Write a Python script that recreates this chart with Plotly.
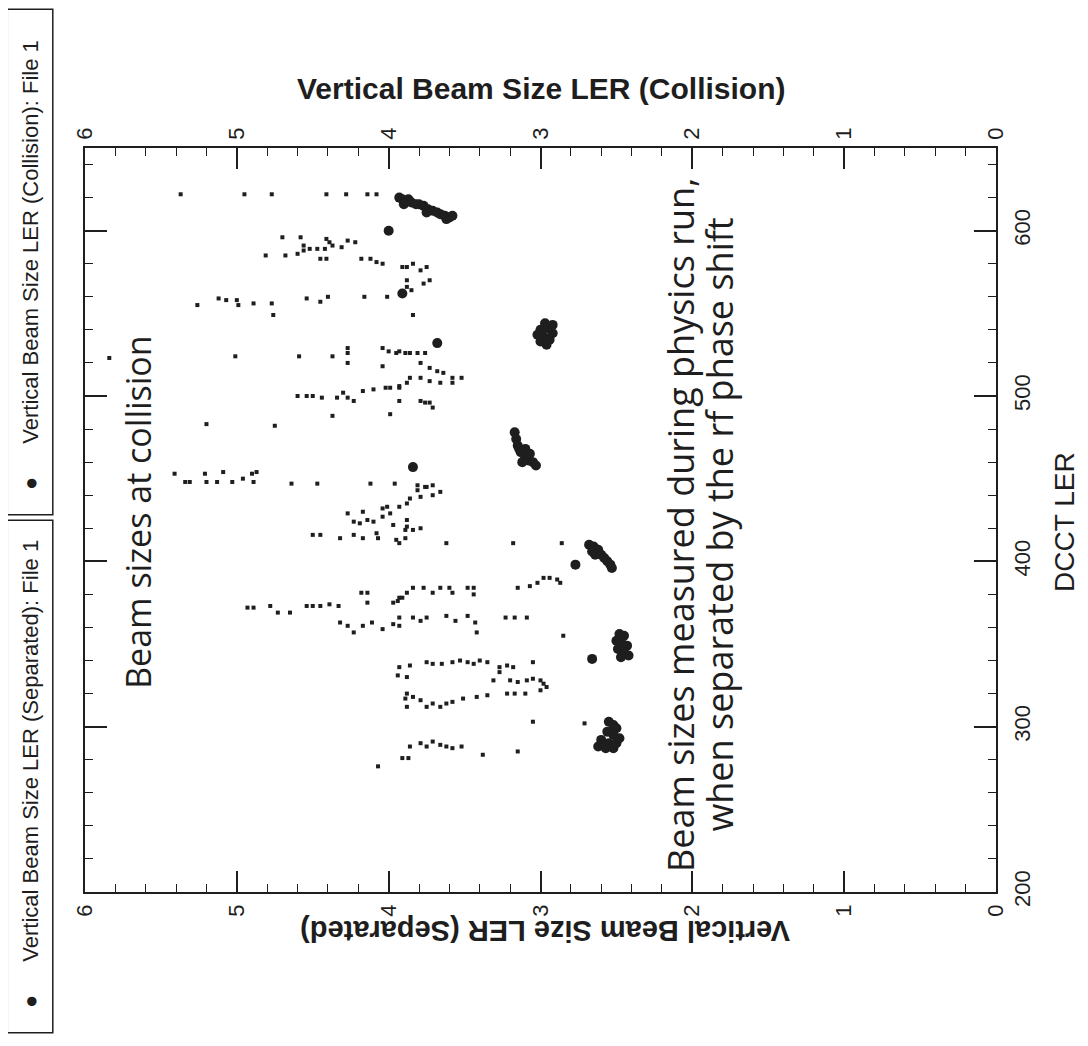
import plotly.graph_objects as go

# ---------------- data ----------------
# Small dots: vertical beam size at collision (top axis), vs DCCT LER
collision_points = [
    (5.37,622),(4.95,622),(4.77,622),(4.41,622),(4.28,622),(4.14,622),(4.08,622),
    (4.70,596),(4.58,596),(4.41,595),(4.39,593),(4.27,594),(4.22,593),(4.56,591),(4.52,589),
    (4.47,589),(4.42,589),(4.37,591),(4.31,590),(4.81,585),(4.68,585),(4.60,586),(4.56,588),
    (4.45,583),(4.41,583),(4.18,583),(4.12,583),(4.08,581),(4.04,580),
    (3.91,578),(3.88,570),(3.88,578),(3.84,580),(3.79,576),(3.75,578),(3.73,570),(3.77,568),
    (3.88,566),(3.85,564),
    (5.26,555),(5.12,559),(5.07,558),(5.00,558),(4.99,555),(4.89,556),(4.77,556),(4.76,549),
    (4.54,559),(4.45,557),(4.40,560),(4.16,560),(4.01,560),(3.84,549),
    (5.84,523),(5.01,524),(4.59,524),(4.37,524),(4.27,529),(4.27,526),(4.27,520),(4.04,529),
    (4.00,527),(3.95,526),(3.89,526),(4.04,518),
    (3.93,527),(3.86,526),(3.81,526),(3.76,526),(3.79,520),(3.73,517),(3.68,515),(3.64,514),
    (3.58,511),(3.52,511),(3.86,511),(3.79,511),(3.73,509),(3.66,508),(3.58,508),(3.93,505),
    (3.79,497),(3.76,496),(3.73,496),(3.71,493),
    (4.60,500),(4.54,500),(4.50,500),(4.44,499),(4.34,499),(4.30,502),(4.27,499),(4.23,497),
    (4.17,503),(4.10,504),(4.02,505),(3.99,505),(3.93,506),(3.88,508),(3.93,497),(4.37,488),
    (3.99,489),(5.20,483),(4.75,482),
    (5.41,453),(5.34,448),(5.31,448),(5.21,453),(5.20,448),(5.13,448),(5.09,454),(5.03,448),
    (4.96,450),(4.90,453),(4.89,448),(4.87,454),(4.64,447),(4.47,447),(4.12,447),(3.96,447),
    (3.81,446),(3.76,445),(3.71,446),(3.81,443),(3.75,445),(3.71,440),(3.66,442),(3.86,438),
    (3.79,439),(3.93,433),
    (4.27,429),(4.17,430),(4.14,425),(4.23,424),(4.19,423),(4.10,424),(4.04,432),(4.01,433),
    (4.04,427),(3.99,429),(3.97,422),(4.50,416),(4.45,416),(4.32,414),(4.23,416),(4.17,414),
    (4.08,417),(4.07,414),(3.95,413),(3.89,414),(3.89,419),(3.88,435),(3.88,425),
    (3.88,421),(3.84,419),(3.79,420),(3.93,411),(3.62,411),(3.18,411),(2.86,411),
    (3.15,384),(3.07,385),(3.02,387),(2.98,390),(2.94,390),(2.89,389),(2.87,387),(3.93,378),
    (3.88,381),(3.84,384),(3.77,384),(3.71,381),(3.66,384),(3.60,384),(3.58,381),(3.48,384),
    (3.44,384),(3.44,380),
    (4.93,372),(4.89,372),(4.78,373),(4.73,369),(4.65,369),(4.54,373),(4.50,373),(4.45,373),
    (4.39,374),(4.33,373),(4.18,381),(4.14,381),(4.14,375),(3.97,375),(3.94,376),(3.91,378),
    (4.32,363),(4.27,361),(4.23,357),(4.17,361),(4.11,363),(4.04,359),(3.97,362),(3.93,361),
    (3.93,366),(3.84,366),(3.79,364),(3.75,366),(3.62,367),(3.56,364),(3.48,367),(3.43,363),
    (3.42,357),(3.23,366),(3.17,366),(3.09,366),(2.85,355),
    (3.94,331),(3.88,330),
    (3.93,336),(3.86,337),(3.75,339),(3.71,338),(3.65,338),(3.58,339),(3.53,340),(3.48,339),
    (3.44,338),(3.40,340),(3.35,339),(3.27,336),(3.22,337),(3.18,336),(3.05,339),(3.31,328),
    (3.27,333),(3.20,328),(3.15,327),(3.09,328),(3.05,329),(3.00,328),(2.98,326),(2.96,324),
    (3.00,322),
    (3.89,317),(3.88,312),
    (3.88,320),(3.84,318),(3.79,316),(3.75,312),(3.71,314),(3.66,312),(3.62,314),(3.58,315),
    (3.51,317),(3.42,318),(3.35,319),(3.22,320),(3.17,320),(3.10,320),(3.05,303),(2.71,302),
    (4.07,276),(3.91,281),(3.87,281),
    (3.86,288),(3.79,290),(3.75,288),(3.71,291),(3.66,289),(3.62,288),(3.58,287),(3.52,288),
    (3.38,283),(3.15,285),
]

# Large dots: vertical beam size when separated (bottom axis), vs DCCT LER
separated_points = [
    (3.93,620),(3.91,619),(3.89,618),(3.87,619),(3.85,617),(3.82,616),(3.80,616),(3.77,615),
    (3.74,613),(3.71,612),(3.68,611),(3.66,610),(3.63,609),(3.60,608),(3.58,609),(3.62,607),
    (3.75,611),(3.90,616),
    (4.00,600),(3.91,562),(3.68,532),(3.84,457),(2.77,398),(2.66,341),
    (3.00,540),(2.95,541),(2.92,538),(2.98,536),(2.94,534),(3.00,533),(2.96,531),(2.92,543),
    (3.02,537),(2.97,544),
    (3.17,478),(3.16,474),(3.15,470),(3.13,466),(3.10,463),(3.08,461),(3.05,460),(3.03,458),
    (3.12,460),(3.07,465),(3.14,468),(3.10,468),
    (2.68,410),(2.65,409),(2.62,407),(2.64,404),(2.60,404),(2.58,402),(2.56,400),(2.54,398),
    (2.53,396),(2.66,406),
    (2.48,356),(2.45,355),(2.50,352),(2.46,350),(2.43,349),(2.49,347),(2.45,345),(2.42,343),
    (2.47,342),
    (2.55,303),(2.52,301),(2.50,299),(2.56,297),(2.52,295),(2.60,292),(2.55,290),(2.50,290),
    (2.62,288),(2.57,287),(2.52,287),(2.48,293),
]

beam_ticks = [0, 1, 2, 3, 4, 5, 6]
dcct_ticks = [200, 300, 400, 500, 600]

col_beam = [p[0] for p in collision_points]
col_dcct = [p[1] for p in collision_points]
sep_beam = [p[0] for p in separated_points]
sep_dcct = [p[1] for p in separated_points]

INK = "#1e1e1e"
SANS = "Liberation Sans, Arial, Helvetica, sans-serif"
HUMAN = "Open Sans, Noto Sans, sans-serif"

fig = go.Figure()
fig.add_trace(go.Scatter(
    x=sep_beam, y=sep_dcct, mode="markers", xaxis="x", yaxis="y",
    name="Vertical Beam Size LER (Separated): File 1",
    marker=dict(symbol="circle", size=10, color=INK, line=dict(width=0)),
))
fig.add_trace(go.Scatter(
    x=col_beam, y=col_dcct, mode="markers", xaxis="x2", yaxis="y",
    name="Vertical Beam Size LER (Collision): File 1",
    marker=dict(symbol="square", size=4, color=INK, line=dict(width=0)),
))

xcommon = dict(
    range=[6, 0], tickvals=beam_ticks, ticks="inside", ticklen=21, tickwidth=1.5,
    tickcolor=INK, showline=True, linewidth=1.5, linecolor=INK, showgrid=False,
    zeroline=False, tickangle=-90, ticklabelstandoff=2,
    tickfont=dict(family=SANS, size=22, color=INK),
    minor=dict(ticks="inside", ticklen=8, dtick=0.2, tick0=0, tickwidth=1.2,
               tickcolor=INK, showgrid=False),
)

# page body has an 8px margin, so the figure is sized / offset to compensate
fig.update_layout(
    width=1080, height=1030,
    margin=dict(l=77, r=92, t=140, b=146),
    paper_bgcolor="white", plot_bgcolor="white",
    showlegend=False,
    xaxis=dict(side="bottom", anchor="y", **xcommon),
    xaxis2=dict(side="top", anchor="y", overlaying="x", **xcommon),
    yaxis=dict(
        side="right", range=[200, 650], tickvals=dcct_ticks, ticks="inside",
        ticklen=22, tickwidth=1.5, tickcolor=INK, showline=True, linewidth=1.5,
        linecolor=INK, mirror="ticks", showgrid=False, zeroline=False,
        tickangle=-90, ticklabelstandoff=6,
        tickfont=dict(family=SANS, size=22, color=INK),
        minor=dict(ticks="inside", ticklen=8, dtick=20, tick0=200, tickwidth=1.2,
                   tickcolor=INK, showgrid=False),
    ),
)

annotations = [
    # axis titles
    dict(text="<b>Vertical Beam Size LER (Collision)</b>", xref="paper", yref="paper",
         x=0.5, y=1.0806, xanchor="center", yanchor="middle", showarrow=False,
         font=dict(family=SANS, size=30, color=INK)),
    dict(text="<b>Vertical Beam Size LER (Separated)</b>", xref="paper", yref="paper",
         x=0.505, y=-0.0524, xanchor="center", yanchor="middle", showarrow=False,
         textangle=180, font=dict(family=SANS, size=29, color=INK)),
    dict(text="DCCT LER", xref="paper", yref="paper",
         x=1.0745, y=0.4973, xanchor="center", yanchor="middle", showarrow=False,
         textangle=-90, font=dict(family=SANS, size=28, color=INK)),
    # legend boxes
    dict(text="\u2003\u25cf\u2003\u2002Vertical Beam Size LER (Collision): File 1",
         xref="paper", yref="paper", x=-0.0598, y=0.8468, xanchor="center",
         yanchor="middle", showarrow=False, textangle=-90, align="left",
         width=500, height=40, borderpad=2, bordercolor=INK, borderwidth=1.5,
         font=dict(family=SANS, size=22, color=INK)),
    dict(text="\u2003\u25cf\u2003\u2002Vertical Beam Size LER (Separated): File 1",
         xref="paper", yref="paper", x=-0.0598, y=0.1546, xanchor="center",
         yanchor="middle", showarrow=False, textangle=-90, align="left",
         width=507, height=40, borderpad=2, bordercolor=INK, borderwidth=1.5,
         font=dict(family=SANS, size=22, color=INK)),
    # notes
    dict(text="Beam sizes at collision", xref="x", yref="y", x=5.65, y=430,
         xanchor="center", yanchor="middle", showarrow=False, textangle=-90,
         font=dict(family=HUMAN, size=34, color=INK)),
    dict(text="Beam sizes measured during physics run,", xref="x", yref="y",
         x=2.075, y=422, xanchor="center", yanchor="middle", showarrow=False,
         textangle=-90, font=dict(family=HUMAN, size=36, color=INK)),
    dict(text="when separated by the rf phase shift", xref="x", yref="y",
         x=1.82, y=422, xanchor="center", yanchor="middle", showarrow=False,
         textangle=-90, font=dict(family=HUMAN, size=36, color=INK)),
]
fig.update_layout(annotations=annotations)

fig.write_html("out.html")
